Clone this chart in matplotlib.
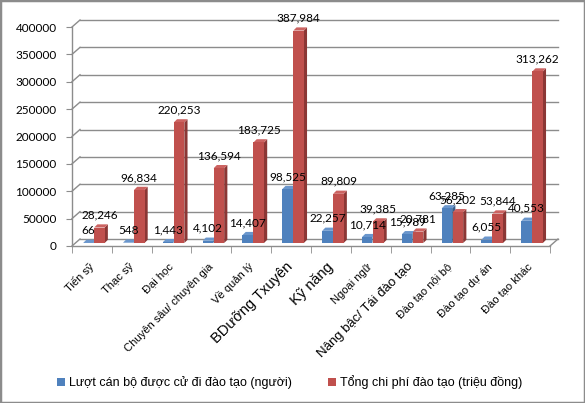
import numpy as np
import matplotlib
matplotlib.use('Agg')
import matplotlib.pyplot as plt
from matplotlib.transforms import ScaledTranslation
from matplotlib.patches import Patch, Rectangle

# ---------------- data ----------------
categories = ["Tiến sỹ", "Thạc sỹ", "Đại học", "Chuyên sâu/ chuyên gia", "Về quản lý",
              "BDưỡng Txuyên", "Kỹ năng", "Ngoại ngữ", "Nâng bậc/ Tái đào tạo",
              "Đào tạo nội bộ", "Đào tạo dự án", "Đào tạo khác"]
trainees = [66, 548, 1443, 4102, 14407, 98525, 22257, 10714, 15989, 63285, 6055, 40553]
costs = [28246, 96834, 220253, 136594, 183725, 387984, 89809, 39385, 20781, 56202, 53844, 313262]
y_ticks = [0, 50000, 100000, 150000, 200000, 250000, 300000, 350000, 400000]
series_names = ["Lượt cán bộ được cử đi đào tạo (người)", "Tổng chi phí đào tạo (triệu đồng)"]

# ---------------- style ----------------
label_sizes = [8, 8, 8, 8, 8, 10.5, 10.5, 8, 9.5, 8, 8, 8]
BLUE, BLUE_SIDE, BLUE_TOP = "#4F81BD", "#385D8A", "#6A96CC"
RED, RED_SIDE, RED_TOP = "#C0504D", "#8B3735", "#CC6361"
GRID = "#8C8C8C"
DPI = 100
W, H = 585, 403

fig = plt.figure(figsize=(W / DPI, H / DPI), dpi=DPI)
fig.patch.set_facecolor("white")

ax_left, ax_right, ax_bottom, ax_top = 72, 550, 246, 27
ax = fig.add_axes([ax_left / W, 1 - ax_bottom / H, (ax_right - ax_left) / W, (ax_bottom - ax_top) / H])
n = len(categories)
ax.set_xlim(-0.5, n - 0.5)
ax.set_ylim(0, y_ticks[-1])
ax.set_facecolor("none")

ux = (ax_right - ax_left) / n            # px per category
uy = (ax_bottom - ax_top) / y_ticks[-1]  # px per value unit


def off(dx, dy):
    return ax.transData + ScaledTranslation(dx / DPI, dy / DPI, fig.dpi_scale_trans)


# back wall gridlines + depth connectors
DEPTH_X, DEPTH_Y = 8, 7
ddx, ddy = DEPTH_X / ux, DEPTH_Y / uy
for v in y_ticks:
    ax.plot([-0.5, n - 0.5], [v, v], transform=off(DEPTH_X, DEPTH_Y), color=GRID, lw=1.0,
            clip_on=False, zorder=1)
    ax.plot([-0.5, -0.5 + ddx], [v, v + ddy], color=GRID, lw=1.0, clip_on=False, zorder=1)
ax.plot([n - 0.5, n - 0.5 + ddx], [0, ddy], color=GRID, lw=1.0, clip_on=False, zorder=1)

# bars with pseudo-3D faces
BAR_DX, BAR_DY = 2, 3
bw = 10.5 / ux
shift = 5.5 / ux
sdx, sdy = 3.2 / ux, 3.2 / uy
x = np.arange(n)


def bar3d(xc, h, front, side, top, z):
    tr = off(BAR_DX, BAR_DY)
    x0, x1 = xc - bw / 2, xc + bw / 2
    ax.fill([x1, x1, x1 + sdx, x1 + sdx], [0, h, h + sdy, sdy], color=side, transform=tr,
            clip_on=False, zorder=z, lw=0)
    ax.fill([x0, x1, x1 + sdx, x0 + sdx], [h, h, h + sdy, h + sdy], color=top, transform=tr,
            clip_on=False, zorder=z, lw=0)
    ax.bar(xc, h, bw, color=front, transform=tr, clip_on=False, zorder=z + 0.5)
    ax.annotate(f"{h:,}", xy=(xc, h), xycoords=tr, xytext=(0, 9), textcoords="offset points",
                ha="center", va="center", fontsize=8.5, family="Lato", color="black", zorder=10)


for i in range(n):
    bar3d(x[i] - shift, trainees[i], BLUE, BLUE_SIDE, BLUE_TOP, 3)
    bar3d(x[i] + shift, costs[i], RED, RED_SIDE, RED_TOP, 5)

# axes styling
for s in ["top", "right"]:
    ax.spines[s].set_visible(False)
for s in ["left", "bottom"]:
    ax.spines[s].set_color(GRID)
    ax.spines[s].set_linewidth(1.0)
ax.set_yticks(y_ticks)
ax.set_yticklabels([str(v) for v in y_ticks], fontsize=8.5, family="Lato")
ax.tick_params(axis="y", length=4, color=GRID, pad=7)
ax.set_xticks([])
ax.set_xticks(np.arange(-0.5, n, 1), minor=True)
ax.tick_params(axis="x", which="minor", length=5, color=GRID, direction="out")
ax.tick_params(axis="x", which="major", length=0)

for i, (cat, fs) in enumerate(zip(categories, label_sizes)):
    ax.text(x[i], 0, cat, transform=off(0, -19), rotation=45, rotation_mode="anchor",
            ha="right", va="center", fontsize=fs, family="Liberation Sans", color="black")

# legend
handles = [Patch(facecolor=BLUE), Patch(facecolor=RED)]
fig.legend(handles, series_names, loc="center", bbox_to_anchor=(0.495, 1 - 382 / H), ncol=2,
           frameon=False, prop={"family": "Liberation Sans", "size": 9},
           handlelength=0.6, handleheight=0.6, handletextpad=0.35, columnspacing=2.9)

# outer border
fig.patches.append(Rectangle((0, 0), 1, 1, transform=fig.transFigure, fill=False,
                             edgecolor="#8C8C8C", lw=2.5))

fig.savefig("out.png", dpi=DPI)
